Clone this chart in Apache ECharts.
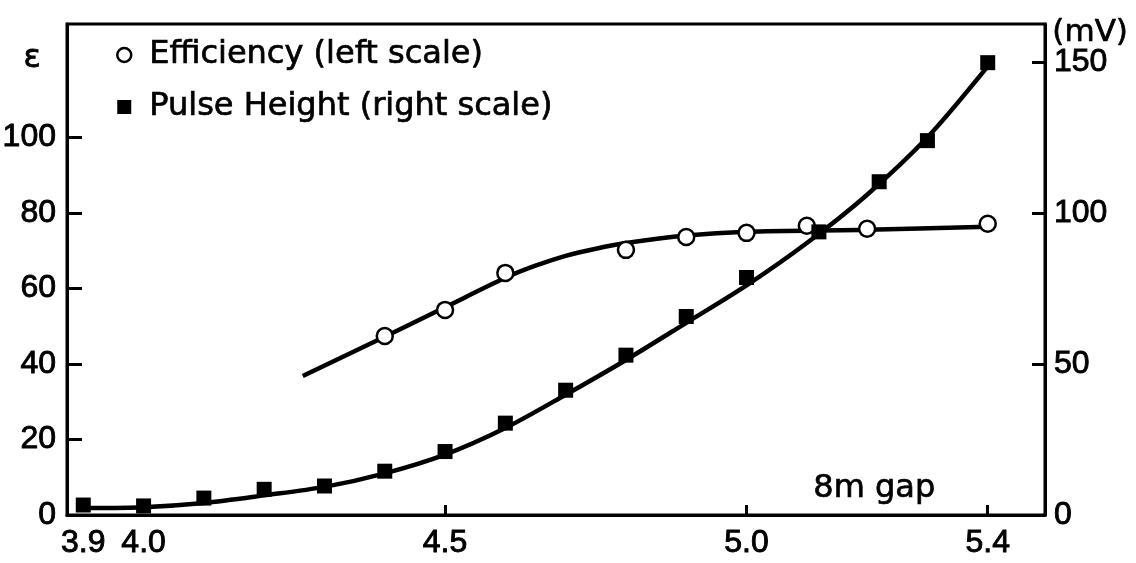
<!DOCTYPE html>
<html>
<head>
<meta charset="utf-8">
<script src="https://cdn.jsdelivr.net/npm/echarts@6/dist/echarts.min.js"></script>
<style>
html,body{margin:0;padding:0;background:#fff;}
#chart{width:1136px;height:563px;}
</style>
</head>
<body>
<div id="chart"></div>
<script>
// ---- data ----
const effX = [4.40, 4.50, 4.60, 4.80, 4.90, 5.00, 5.10, 5.20, 5.40];
const effY = [47.4, 54.3, 64.1, 70.2, 73.6, 74.7, 76.6, 75.8, 77.1];

const effFitX = [4.264, 4.4, 4.5, 4.6, 4.65, 4.7, 4.75, 4.8, 4.9, 5.0, 5.2, 5.4];
const effFitY = [36.8, 47.2, 55.0, 62.8, 66.0, 68.6, 70.5, 72.0, 74.0, 75.0, 75.5, 76.3];

const pulseX = [3.9, 4.0, 4.1, 4.2, 4.3, 4.4, 4.5, 4.6, 4.7, 4.8, 4.9, 5.0, 5.12, 5.22, 5.3, 5.4];
const pulseY = [3.3, 3.0, 5.6, 8.5, 9.6, 14.5, 21.0, 30.4, 41.3, 52.9, 65.7, 78.6, 93.7, 110.3, 123.9, 149.7];

const pulseFitX = [3.911, 4.0, 4.1, 4.2, 4.3, 4.4, 4.5, 4.6, 4.7, 4.8, 4.9, 5.0, 5.1, 5.2, 5.3, 5.4];
const pulseFitY = [2.3, 2.6, 4.0, 6.5, 9.3, 13.8, 20.0, 28.8, 39.8, 51.3, 63.6, 76.0, 90.0, 106.0, 125.0, 148.5];

const xTickLabels = [3.9, 4.0, 4.5, 5.0, 5.4];
const xTickMarks = [4.5, 5.0, 5.4];
const leftTickLabels = [0, 20, 40, 60, 80, 100];
const leftTickMarks = [20, 40, 60, 80, 100];
const rightTickLabels = [0, 50, 100, 150];
const rightTickMarks = [50, 100, 150];

const seriesNames = ['Efficiency (left scale)', 'Pulse Height (right scale)'];
const yLabelLeft = 'ε';
const yLabelRight = '(mV)';
const note = '8m gap';

// ---- chart ----
const zip = (a, b) => a.map((v, i) => [v, b[i]]);
const numFont = "'Liberation Sans', Arial, sans-serif";
const txtFont = 'DejaVu Sans';
const black = '#000';
const numStyle = {fontFamily: numFont, fontSize: 32, color: black, textBorderColor: black, textBorderWidth: 0.9};

const chart = echarts.init(document.getElementById('chart'), null, {renderer: 'canvas'});
chart.setOption({
  backgroundColor: '#fff',
  animation: false,
  grid: {left: 67, right: 91, top: 24, bottom: 48, show: true, borderColor: black, borderWidth: 3,
    containLabel: false, outerBoundsMode: 'none'},
  legend: {
    data: [
      {name: seriesNames[0], icon: 'circle', itemStyle: {color: '#fff', borderColor: black, borderWidth: 2.5}},
      {name: seriesNames[1], icon: 'rect', itemStyle: {color: black}}
    ],
    orient: 'vertical', left: 111, top: 32, itemWidth: 14, itemHeight: 14, itemGap: 16,
    textStyle: {fontFamily: txtFont, fontSize: 32, color: black, lineHeight: 36, padding: [0, 0, 0, 13],
      textBorderColor: black, textBorderWidth: 0.7}
  },
  xAxis: {
    type: 'value', min: 3.873, max: 5.495,
    axisLine: {show: true, lineStyle: {color: black, width: 3}},
    axisTick: {show: true, inside: true, length: 10, lineStyle: {color: black, width: 3}, customValues: xTickMarks},
    axisLabel: Object.assign({customValues: xTickLabels, formatter: v => Number(v).toFixed(1), margin: 12}, numStyle),
    splitLine: {show: false}
  },
  yAxis: [
    {
      type: 'value', min: 0, max: 130, position: 'left',
      axisLine: {show: true, lineStyle: {color: black, width: 3}},
      axisTick: {show: true, inside: true, length: 15, lineStyle: {color: black, width: 3}, customValues: leftTickMarks},
      axisLabel: Object.assign({customValues: leftTickLabels, margin: 11}, numStyle),
      splitLine: {show: false}
    },
    {
      type: 'value', min: 0, max: 162.5, position: 'right',
      axisLine: {show: true, lineStyle: {color: black, width: 3}},
      axisTick: {show: true, inside: true, length: 13, lineStyle: {color: black, width: 3}, customValues: rightTickMarks},
      axisLabel: Object.assign({customValues: rightTickLabels, margin: 9}, numStyle),
      splitLine: {show: false}
    }
  ],
  series: [
    {
      name: 'effFit', type: 'line', yAxisIndex: 0, data: zip(effFitX, effFitY),
      showSymbol: false, smooth: 0.3, lineStyle: {color: black, width: 4.5}, z: 2, silent: true
    },
    {
      name: 'pulseFit', type: 'line', yAxisIndex: 1, data: zip(pulseFitX, pulseFitY),
      showSymbol: false, smooth: 0.3, lineStyle: {color: black, width: 4.5}, z: 2, silent: true
    },
    {
      name: seriesNames[0], type: 'scatter', yAxisIndex: 0, data: zip(effX, effY),
      symbol: 'circle', symbolSize: 16,
      itemStyle: {color: '#fff', borderColor: black, borderWidth: 2.5, opacity: 1}, z: 5
    },
    {
      name: seriesNames[1], type: 'scatter', yAxisIndex: 1, data: zip(pulseX, pulseY),
      symbol: 'rect', symbolSize: 15,
      itemStyle: {color: black, opacity: 1}, z: 5
    }
  ],
  graphic: [
    {type: 'text', left: 23, top: 42, style: {text: yLabelLeft, fontFamily: txtFont, fontSize: 32, fill: black, stroke: black, lineWidth: 0.8}},
    {type: 'text', left: 1052, top: 17, style: {text: yLabelRight, fontFamily: txtFont, fontSize: 31, fill: black, stroke: black, lineWidth: 0.7}},
    {type: 'text', left: 813, top: 472, style: {text: note, fontFamily: txtFont, fontSize: 32, fill: black, stroke: black, lineWidth: 0.7}}
  ]
});
</script>
</body>
</html>
